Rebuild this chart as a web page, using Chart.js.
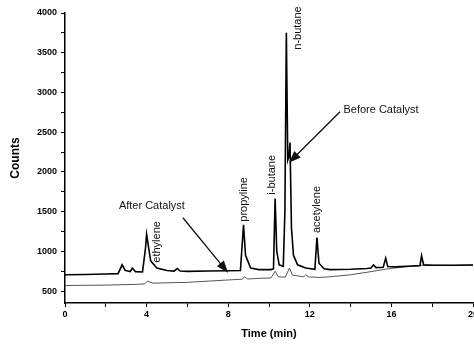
<!DOCTYPE html>
<html>
<head>
<meta charset="utf-8">
<script src="https://cdn.jsdelivr.net/npm/chart.js@4/dist/chart.umd.min.js"></script>
<style>
  html, body { margin: 0; padding: 0; background: #fff; }
  #wrap { width: 474px; height: 345px; }
</style>
</head>
<body>
<div id="wrap"><canvas id="gc"></canvas></div>
<script>
// retention time (min) / counts
var beforeTime = [0, 1, 2, 2.6, 2.8, 2.95, 3.2, 3.3, 3.45, 3.8, 3.95, 4.0, 4.08, 4.2, 4.5, 5.0, 5.35, 5.5, 5.65, 6, 7, 8, 8.6, 8.75, 8.85, 9.1, 9.5, 10.1, 10.22, 10.3, 10.38, 10.5, 10.7, 10.78, 10.85, 10.92, 10.98, 11.03, 11.1, 11.2, 11.4, 11.8, 12.25, 12.35, 12.45, 12.7, 13, 14, 14.8, 15.0, 15.12, 15.25, 15.6, 15.72, 15.82, 16.2, 17, 17.4, 17.48, 17.58, 18, 19, 20];
var beforeCounts = [705, 708, 715, 720, 830, 760, 745, 790, 745, 740, 1050, 1215, 1080, 880, 790, 760, 752, 785, 752, 748, 752, 755, 760, 1335, 950, 790, 770, 770, 780, 1665, 1000, 830, 810, 1500, 3750, 2150, 2200, 2370, 1300, 950, 830, 790, 775, 1175, 850, 780, 770, 775, 785, 790, 830, 795, 800, 915, 810, 805, 815, 820, 945, 830, 825, 825, 828];

var afterTime = [0, 2, 3.5, 3.9, 4.05, 4.3, 6, 8, 8.7, 8.8, 8.95, 9.5, 10.1, 10.3, 10.45, 10.8, 11.0, 11.15, 11.7, 11.8, 11.95, 12.5, 13, 14, 15, 15.7, 16, 16.5, 17, 17.5, 18, 19, 20];
var afterCounts = [570, 575, 585, 590, 625, 600, 610, 640, 650, 680, 652, 660, 665, 750, 680, 675, 790, 700, 680, 705, 678, 672, 680, 705, 745, 775, 785, 800, 812, 825, 825, 823, 826];

// peak names, placed above each peak (time, counts at text bottom)
var peakNames = ['ethylene', 'propyline', 'i-butane', 'n-butane', 'acetylene'];
var peakTimes = [4.52, 8.76, 10.17, 11.42, 12.35];
var peakBase = [857, 1373, 1713, 3538, 1230];

var xTicks = [0, 4, 8, 12, 16, 20];
var yTicks = [500, 1000, 1500, 2000, 2500, 3000, 3500, 4000];

function pts(xs, ys) {
  return xs.map(function (x, i) { return {x: x, y: ys[i]}; });
}

var notes = {
  id: 'notes',
  afterDraw: function (chart) {
    var ctx = chart.ctx, xs = chart.scales.x, ys = chart.scales.y;
    ctx.save();
    ctx.fillStyle = '#111';
    ctx.font = '11px "Liberation Sans", Arial, sans-serif';
    ctx.textAlign = 'left';
    ctx.textBaseline = 'middle';
    peakNames.forEach(function (name, i) {
      ctx.save();
      ctx.translate(xs.getPixelForValue(peakTimes[i]), ys.getPixelForValue(peakBase[i]));
      ctx.rotate(-Math.PI / 2);
      ctx.fillText(name, 0, 0);
      ctx.restore();
    });
    function arrow(t0, v0, t1, v1) {
      var x0 = xs.getPixelForValue(t0), y0 = ys.getPixelForValue(v0);
      var x1 = xs.getPixelForValue(t1), y1 = ys.getPixelForValue(v1);
      var a = Math.atan2(y1 - y0, x1 - x0);
      ctx.strokeStyle = '#111';
      ctx.lineWidth = 1.3;
      ctx.beginPath();
      ctx.moveTo(x0, y0);
      ctx.lineTo(x1 - 8 * Math.cos(a), y1 - 8 * Math.sin(a));
      ctx.stroke();
      ctx.beginPath();
      ctx.moveTo(x1, y1);
      ctx.lineTo(x1 - 12 * Math.cos(a) + 4.5 * Math.sin(a), y1 - 12 * Math.sin(a) - 4.5 * Math.cos(a));
      ctx.lineTo(x1 - 12 * Math.cos(a) - 4.5 * Math.sin(a), y1 - 12 * Math.sin(a) + 4.5 * Math.cos(a));
      ctx.closePath();
      ctx.fill();
    }
    ctx.fillText('Before Catalyst', xs.getPixelForValue(13.65), ys.getPixelForValue(2785));
    arrow(13.48, 2758, 10.98, 2116);
    ctx.textAlign = 'center';
    ctx.fillText('After Catalyst', xs.getPixelForValue(4.26), ys.getPixelForValue(1575));
    arrow(5.78, 1423, 7.99, 731);
    ctx.restore();
  }
};

var tickFont = {family: '"Liberation Sans", Arial, sans-serif', size: 9, weight: 'bold'};

var gcChart = new Chart(document.getElementById('gc'), {
  type: 'scatter',
  data: {
    datasets: [{
      label: 'Before Catalyst',
      data: pts(beforeTime, beforeCounts),
      showLine: true,
      borderColor: '#000',
      borderWidth: 1.6,
      pointRadius: 0,
      tension: 0
    }, {
      label: 'After Catalyst',
      data: pts(afterTime, afterCounts),
      showLine: true,
      borderColor: '#555',
      borderWidth: 1,
      pointRadius: 0,
      tension: 0
    }]
  },
  plugins: [notes],
  options: {
    responsive: true,
    maintainAspectRatio: false,
    animation: false,
    layout: {padding: {top: 13, right: 1, left: 0, bottom: 0}},
    plugins: {
      legend: {display: false},
      tooltip: {enabled: false}
    },
    scales: {
      x: {
        type: 'linear',
        min: 0,
        max: 20,
        afterFit: function (s) { s.paddingRight = 0; s.paddingLeft = 0; s.height = 42; },
        border: {display: true, color: '#000', width: 1.5},
        grid: {drawOnChartArea: false, drawTicks: true, tickLength: 4, color: '#000'},
        ticks: {
          stepSize: 2,
          maxRotation: 0,
          padding: 2,
          color: '#000',
          font: tickFont,
          callback: function (v) { return xTicks.indexOf(v) >= 0 ? String(v) : ''; }
        },
        title: {
          display: true,
          text: 'Time (min)',
          color: '#000',
          font: {family: '"Liberation Sans", Arial, sans-serif', size: 11, weight: 'bold'},
          padding: {top: 4, bottom: 4}
        }
      },
      y: {
        min: 350,
        max: 4000,
        afterFit: function (s) { s.width = 65; },
        border: {display: true, color: '#000', width: 1.5},
        grid: {drawOnChartArea: false, drawTicks: true, tickLength: 4, color: '#000'},
        ticks: {
          stepSize: 250,
          includeBounds: false,
          padding: 4,
          color: '#000',
          font: tickFont,
          callback: function (v) { return yTicks.indexOf(v) >= 0 ? String(v) : ''; }
        },
        title: {
          display: true,
          text: 'Counts',
          color: '#000',
          font: {family: '"Liberation Sans", Arial, sans-serif', size: 12, weight: 'bold'},
          padding: {top: 8, bottom: 4}
        }
      }
    }
  }
});
</script>
</body>
</html>
